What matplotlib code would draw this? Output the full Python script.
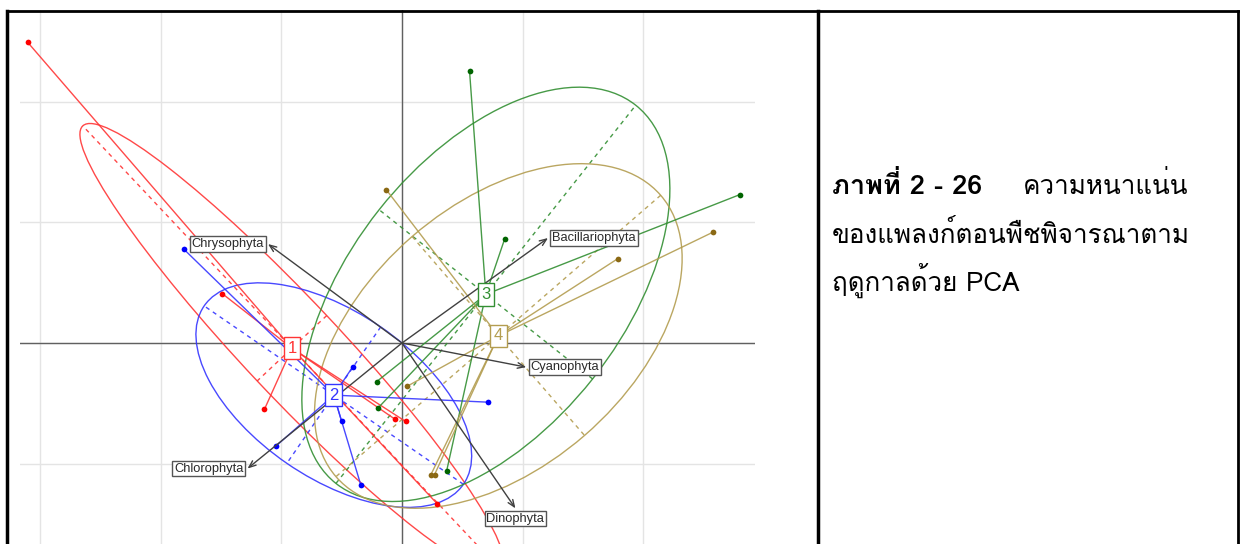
"""PCA biplot of phytoplankton density by season, with Thai caption panel."""

import numpy as np
import matplotlib
matplotlib.use("Agg")
import matplotlib.pyplot as plt
from matplotlib import font_manager, ft2font
from matplotlib.patches import Ellipse

# row scores (PC1, PC2) per season, 6 samples each
season_ids = ["1", "2", "3", "4"]
pc1_s1 = [-3.10, -1.49, -1.14, -0.06, 0.03, 0.29]
pc2_s1 = [2.49, 0.41, -0.55, -0.63, -0.65, -1.33]
pc1_s2 = [-1.81, -0.41, -0.50, -1.04, -0.34, 0.71]
pc2_s2 = [0.78, -0.20, -0.65, -0.85, -1.18, -0.49]
pc1_s3 = [0.56, 0.85, 2.80, -0.21, -0.20, 0.37]
pc2_s3 = [2.25, 0.86, 1.23, -0.32, -0.54, -1.06]
pc1_s4 = [-0.13, 1.79, 2.58, 0.04, 0.24, 0.27]
pc2_s4 = [1.27, 0.70, 0.92, -0.36, -1.09, -1.09]

# variable loadings
taxa = ["Chrysophyta", "Bacillariophyta", "Cyanophyta", "Dinophyta", "Chlorophyta"]
load_pc1 = [-1.11, 1.21, 1.03, 0.94, -1.28]
load_pc2 = [0.82, 0.87, -0.20, -1.37, -1.04]

caption_bold = "ภาพที่ 2 - 26"
caption_lines = ["ความหนาแน่น", "ของแพลงก์ตอนพืชพิจารณาตาม", "ฤดูกาลด้วย PCA"]

point_cols = ["#FF0000", "#0000FF", "#006400", "#8B6914"]
line_cols = ["#FF3535", "#3535FF", "#338F33", "#B39D50"]


def font_with(ch, fallback="DejaVu Sans"):
    for f in font_manager.fontManager.ttflist:
        try:
            if ord(ch) in ft2font.FT2Font(f.fname).get_charmap():
                return f.name
        except Exception:
            continue
    return fallback


W, H = 1240, 544
fig = plt.figure(figsize=(W / 100, H / 100), dpi=100)
fig.patch.set_facecolor("white")

# biplot panel
ax = fig.add_axes([20 / W, 0, 735 / W, 534 / H])
ax.set_xlim(-3.165, 2.925)
ax.set_ylim(-1.665, 2.759)
ax.set_aspect("equal")
for s in ax.spines.values():
    s.set_visible(False)
ax.set_xticks([])
ax.set_yticks([])
for g in range(-3, 3):
    ax.axvline(g, color="#e4e4e4", lw=1.0, zorder=0)
for g in range(-1, 3):
    ax.axhline(g, color="#e4e4e4", lw=1.0, zorder=0)
ax.axhline(0, color="#606060", lw=1.0, zorder=1)
ax.axvline(0, color="#606060", lw=1.0, zorder=1)

groups = [(pc1_s1, pc2_s1), (pc1_s2, pc2_s2), (pc1_s3, pc2_s3), (pc1_s4, pc2_s4)]
label_font = "Liberation Sans"

for k, (gx, gy) in enumerate(groups):
    xy = np.column_stack([gx, gy])
    c = xy.mean(axis=0)
    cov = np.cov(xy.T, bias=True)
    vals, vecs = np.linalg.eigh(cov)
    half = 1.5 * np.sqrt(vals)
    ang = np.degrees(np.arctan2(vecs[1, 1], vecs[0, 1]))
    ax.add_patch(Ellipse(c, 2 * half[1], 2 * half[0], angle=ang, fill=False,
                         ec=line_cols[k], lw=1.0, alpha=0.9, zorder=2))
    for j in range(2):
        d = vecs[:, j] * half[j]
        ax.plot([c[0] - d[0], c[0] + d[0]], [c[1] - d[1], c[1] + d[1]],
                ls=(0, (3, 3)), color=line_cols[k], lw=1.0, alpha=0.9, zorder=2)
    for px, py in xy:
        ax.plot([c[0], px], [c[1], py], color=line_cols[k], lw=1.0, alpha=0.9, zorder=3)
    ax.scatter(xy[:, 0], xy[:, 1], s=17, color=point_cols[k], zorder=4, lw=0)
    ax.text(c[0], c[1], season_ids[k], ha="center", va="center", fontsize=12,
            family=label_font, color=line_cols[k], zorder=8,
            bbox=dict(boxstyle="square,pad=0.22", fc="white", ec=line_cols[k], lw=1.0))

for name, lx, ly in zip(taxa, load_pc1, load_pc2):
    ax.annotate("", xy=(lx, ly), xytext=(0, 0), zorder=6,
                arrowprops=dict(arrowstyle="->,head_length=0.5,head_width=0.2",
                                color="#404040", lw=1.0, shrinkA=0, shrinkB=0))
    if abs(lx) >= abs(ly):
        ha, va = ("left" if lx > 0 else "right"), "center"
        off = (3 if lx > 0 else -3, 0)
    else:
        ha, va = "center", ("bottom" if ly > 0 else "top")
        off = (0, 3 if ly > 0 else -3)
    ax.annotate(name, xy=(lx, ly), xytext=off, textcoords="offset points",
                ha=ha, va=va, fontsize=9.3, family=label_font, color="#2a2a2a", zorder=9,
                bbox=dict(boxstyle="square,pad=0.15", fc="white", ec="#555555", lw=1.0))

# table borders
lines = fig.add_axes([0, 0, 1, 1], zorder=10)
lines.set_xlim(0, W)
lines.set_ylim(H, 0)
lines.axis("off")
lines.plot([7, 1238], [10.5, 10.5], color="black", lw=2.0)
lines.plot([7, 7], [10.5, H], color="black", lw=2.5)
lines.plot([818, 818], [10.5, H], color="black", lw=2.5)
lines.plot([1238, 1238], [10.5, H], color="black", lw=2.0)

# caption
thai = font_with("ภ")
fam = [thai, "DejaVu Sans"]
fig.text(832 / W, 1 - 194 / H, caption_bold, fontsize=19.5, fontweight="bold",
         family=fam, color="black")
fig.text(1023 / W, 1 - 194 / H, caption_lines[0], fontsize=18.7,
         family=fam, color="black")
fig.text(832 / W, 1 - 243 / H, caption_lines[1], fontsize=18.7,
         family=fam, color="black")
fig.text(832 / W, 1 - 291 / H, caption_lines[2], fontsize=18.7,
         family=fam, color="black")

fig.savefig("out.png", dpi=100, facecolor="white")
